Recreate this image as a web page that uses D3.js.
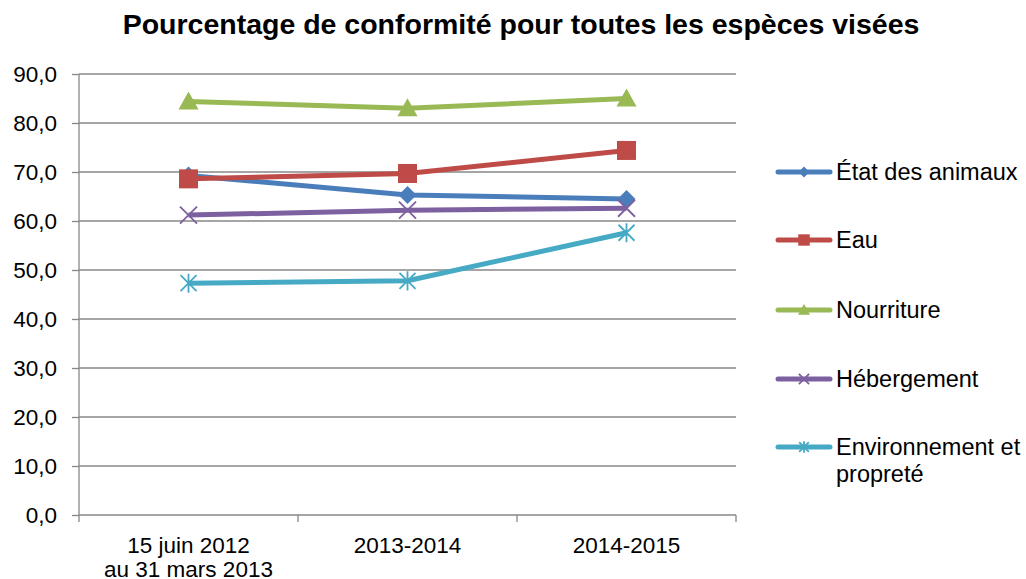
<!DOCTYPE html>
<meta charset="utf-8">
<head>
  <title>Pourcentage de conformité</title>
</head>
<style>
body { margin: 0; background: #fff; }
text { font-family: "Liberation Sans", Arial, sans-serif; fill: #000; }
.grid line { stroke: #878787; stroke-width: 1.3; }
.axis path, .axis line { stroke: #878787; stroke-width: 1.3; }
.axis text { font-size: 22.5px; }
</style>
<body>
<svg width="1026" height="579"></svg>
<script src="https://d3js.org/d3.v7.min.js"></script>
<script>
var categories = [["15 juin 2012", "au 31 mars 2013"], ["2013-2014"], ["2014-2015"]];
var seriesNames = ["État des animaux", "Eau", "Nourriture", "Hébergement", "Environnement et propreté"];
var etat = [69.3, 65.3, 64.5];
var eau = [68.6, 69.7, 74.4];
var nourriture = [84.4, 83.0, 85.0];
var hebergement = [61.2, 62.2, 62.6];
var environnement = [47.3, 47.8, 57.6];
var yTicks = [0, 10, 20, 30, 40, 50, 60, 70, 80, 90];

var colors = ["#4A7EBB", "#BE4B48", "#98B954", "#7D60A0", "#46AAC5"];
var markers = ["diamond", "square", "triangle", "x", "star"];
var values = [etat, eau, nourriture, hebergement, environnement];

var svg = d3.select("svg");
var plotLeft = 79, plotRight = 736, plotTop = 74, plotBottom = 515;

var x = d3.scaleBand().domain(d3.range(categories.length)).range([plotLeft, plotRight]);
var y = d3.scaleLinear().domain([0, 90]).range([plotBottom, plotTop]);

svg.append("text")
  .attr("x", 521).attr("y", 34)
  .attr("text-anchor", "middle")
  .style("font-size", "28.5px").style("font-weight", "bold")
  .text("Pourcentage de conformité pour toutes les espèces visées");

// gridlines
svg.append("g").attr("class", "grid")
  .selectAll("line").data(yTicks.slice(1)).enter().append("line")
  .attr("x1", plotLeft).attr("x2", plotRight)
  .attr("y1", function(d) { return y(d); })
  .attr("y2", function(d) { return y(d); });

// y axis
var yAxis = svg.append("g").attr("class", "axis")
  .attr("transform", "translate(" + plotLeft + ",0)")
  .call(d3.axisLeft(y).tickValues(yTicks).tickSize(7).tickPadding(15)
    .tickFormat(function(d) { return d3.format(".1f")(d).replace(".", ","); }));
yAxis.select(".domain").attr("d", "M0," + plotBottom + "V" + plotTop);
yAxis.selectAll("text").attr("fill", "#000");

// x axis
var xAxis = svg.append("g").attr("class", "axis")
  .attr("transform", "translate(0," + plotBottom + ")")
  .call(d3.axisBottom(x).tickSize(0).tickFormat(""));
xAxis.select(".domain").attr("d", "M" + plotLeft + ",0H" + plotRight);
xAxis.selectAll(".tick").remove();
xAxis.selectAll("line.sep").data(d3.range(categories.length + 1)).enter().append("line")
  .attr("class", "sep")
  .attr("x1", function(i) { return plotLeft + i * x.bandwidth(); })
  .attr("x2", function(i) { return plotLeft + i * x.bandwidth(); })
  .attr("y1", 0).attr("y2", 7);
xAxis.selectAll("text.lbl").data(categories).enter().append("text")
  .attr("class", "lbl")
  .attr("text-anchor", "middle")
  .attr("x", function(d, i) { return x(i) + x.bandwidth() / 2; })
  .attr("y", 38)
  .selectAll("tspan").data(function(d) { return d; }).enter().append("tspan")
  .attr("x", function() { return this.parentNode.getAttribute("x"); })
  .attr("dy", function(d, i) { return i ? 24 : 0; })
  .text(function(d) { return d; });

function drawMarker(g, type, color, cx, cy, s) {
  if (type === "diamond") {
    g.append("path").attr("d", "M" + cx + "," + (cy - s) + "L" + (cx + s) + "," + cy + "L" + cx + "," + (cy + s) + "L" + (cx - s) + "," + cy + "Z")
      .attr("fill", color);
  } else if (type === "square") {
    g.append("rect").attr("x", cx - s).attr("y", cy - s).attr("width", 2 * s).attr("height", 2 * s)
      .attr("fill", color);
  } else if (type === "triangle") {
    g.append("path").attr("d", "M" + cx + "," + (cy - s) + "L" + (cx + s) + "," + (cy + s * 0.8) + "L" + (cx - s) + "," + (cy + s * 0.8) + "Z")
      .attr("fill", color);
  } else if (type === "x") {
    g.append("path").attr("d", "M" + (cx - s) + "," + (cy - s) + "L" + (cx + s) + "," + (cy + s) + "M" + (cx + s) + "," + (cy - s) + "L" + (cx - s) + "," + (cy + s))
      .attr("stroke", color).attr("stroke-width", 1.8).attr("fill", "none");
  } else {
    g.append("path").attr("d", "M" + (cx - s) + "," + (cy - s) + "L" + (cx + s) + "," + (cy + s) + "M" + (cx + s) + "," + (cy - s) + "L" + (cx - s) + "," + (cy + s) + "M" + cx + "," + (cy - s * 1.2) + "L" + cx + "," + (cy + s * 1.2))
      .attr("stroke", color).attr("stroke-width", 1.8).attr("fill", "none");
  }
}
var sizes = [9, 9.5, 10, 8.5, 8];

var line = d3.line()
  .x(function(d, i) { return x(i) + x.bandwidth() / 2; })
  .y(function(d) { return y(d); });

values.forEach(function(vals, k) {
  var g = svg.append("g");
  g.append("path").datum(vals).attr("d", line)
    .attr("fill", "none").attr("stroke", colors[k]).attr("stroke-width", 5)
    .attr("stroke-linejoin", "round");
  vals.forEach(function(v, i) {
    drawMarker(g, markers[k], colors[k], x(i) + x.bandwidth() / 2, y(v), sizes[k]);
  });
});

// legend
var legendY = [172, 240, 310, 379, 447];
seriesNames.forEach(function(name, k) {
  var g = svg.append("g").attr("transform", "translate(0," + legendY[k] + ")");
  g.append("line").attr("x1", 778).attr("x2", 830).attr("y1", 0).attr("y2", 0)
    .attr("stroke", colors[k]).attr("stroke-width", 5).attr("stroke-linecap", "round");
  drawMarker(g, markers[k], colors[k], 804, 0, sizes[k] * 0.6);
  var t = g.append("text").attr("x", 836).attr("y", 8).style("font-size", "23.5px");
  if (k === 4) {
    t.append("tspan").attr("x", 836).text("Environnement et");
    t.append("tspan").attr("x", 836).attr("dy", 27).text("propreté");
  } else {
    t.text(name);
  }
});
</script>
</body>
</html>
